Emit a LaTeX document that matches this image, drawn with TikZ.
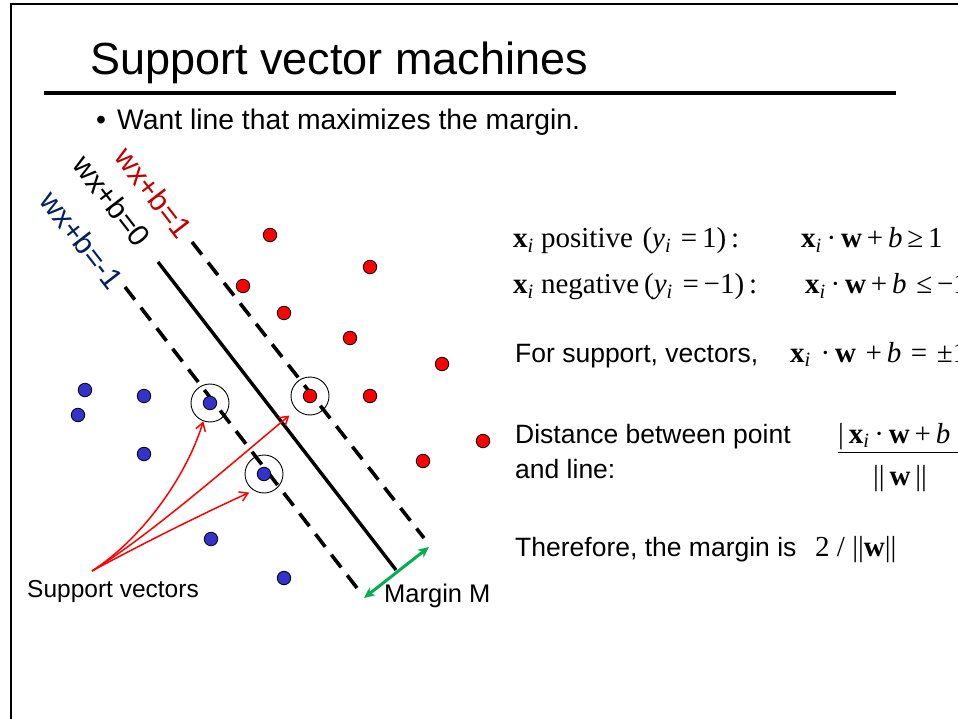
\documentclass[tikz,border=0pt]{standalone}
\usepackage{fontspec}
\setmainfont{Liberation Sans}
\newfontfamily\tms{Liberation Serif}
\usetikzlibrary{arrows.meta}
\definecolor{lblred}{RGB}{192,0,0}
\definecolor{lblblue}{RGB}{0,32,96}
\definecolor{dotblue}{RGB}{51,51,204}
\definecolor{mgreen}{RGB}{0,176,80}
\newcommand\bx{\textbf{x}}
\newcommand\bw{\textbf{w}}
\newcommand\sbi{\textsubscript{\itshape i}}
\begin{document}
\begin{tikzpicture}[x=1pt,y=-1pt,
  txt/.style={anchor=base west,inner sep=0pt,font=\fontsize{26.5}{30}\selectfont},
  mth/.style={anchor=base west,inner sep=0pt,font=\tms\fontsize{29}{32}\selectfont},
  lbl/.style={inner sep=0pt,rotate=-52.3,font=\fontsize{30}{32}\selectfont},
  rdot/.style={circle,fill=red,draw=black,line width=0.8pt,minimum size=13.5pt,inner sep=0pt},
  bdot/.style={circle,fill=dotblue,draw=black,line width=0.8pt,minimum size=13.5pt,inner sep=0pt},
  ring/.style={circle,draw=black,line width=0.9pt,minimum size=38pt,inner sep=0pt},
  dashline/.style={line width=3.6pt,dash pattern=on 16pt off 10pt},
  solidline/.style={line width=3.4pt},
  svarrow/.style={draw=red,line width=1.5pt,-{Straight Barb[length=8pt,width=10pt]}},
  marginarrow/.style={draw=mgreen,line width=3pt,{Stealth[length=11pt,width=10pt]}-{Stealth[length=11pt,width=10pt]}}]
\useasboundingbox (0,0) rectangle (958,719);
\fill[white] (0,0) rectangle (958,719);
% frame
\draw[line width=2pt] (11,719) -- (11,4) -- (958,4);
% title
\node[anchor=base west,inner sep=0pt,font=\fontsize{45}{50}\selectfont] (title) at (90,75) {Support vector machines};
\draw[line width=3.2pt] (44,93) -- (896,93);
\node[anchor=base west,inner sep=0pt,font=\fontsize{28.3}{32}\selectfont] (bul) at (96,130) {•};
\node[anchor=base west,inner sep=0pt,font=\fontsize{28.3}{32}\selectfont] (want) at (117,130) {Want line that maximizes the margin.};
% hyperplane lines
\coordinate (s1) at (158,262); \coordinate (s2) at (396,570);
\coordinate (p1) at (192,242); \coordinate (p2) at (424,538);
\coordinate (n1) at (125,287); \coordinate (n2) at (357,588);
\draw[solidline] (s1) -- (s2);
\draw[dashline] (p1) -- (p2);
\draw[dashline] (n1) -- (n2);
% labels
\node[lbl,text=lblred] (lp) at (154,193) {wx+b=1};
\node[lbl,text=black] (l0) at (112,201) {wx+b=0};
\node[lbl,text=lblblue] (ln) at (82,240) {wx+b=-1};
% red points
\node[rdot] (r1) at (270,235) {};
\node[rdot] (r2) at (370,267) {};
\node[rdot] (r3) at (243,286) {};
\node[rdot] (r4) at (284,313) {};
\node[rdot] (r5) at (350,338) {};
\node[rdot] (r6) at (442,364) {};
\node[rdot] (r7) at (370,396) {};
\node[rdot] (r8) at (310,396) {};
\node[rdot] (r9) at (483,441) {};
\node[rdot] (r10) at (423,461) {};
% blue points
\node[bdot] (b1) at (85,390) {};
\node[bdot] (b2) at (78,415) {};
\node[bdot] (b3) at (144,396) {};
\node[bdot] (b4) at (210,403) {};
\node[bdot] (b5) at (144,454) {};
\node[bdot] (b6) at (264,474) {};
\node[bdot] (b7) at (211,539) {};
\node[bdot] (b8) at (284,578) {};
% rings
\node[ring] (c1) at (210,403) {};
\node[ring] (c2) at (310,396) {};
\node[ring] (c3) at (264,474) {};
% support vectors arrows
\node[anchor=base west,inner sep=0pt,font=\fontsize{24.5}{28}\selectfont] (svt) at (27,597) {Support vectors};
\coordinate (sv) at (92,571);
\draw[svarrow] (sv) .. controls (140,540) and (185,480) .. (c1.250);
\draw[svarrow,shorten >=9pt] (sv) .. controls (150,535) and (230,465) .. (c2.225);
\draw[svarrow,shorten >=5pt] (sv) .. controls (140,545) and (200,515) .. (c3.238);
% margin
\coordinate (m1) at (364,598); \coordinate (m2) at (429,547);
\draw[marginarrow] (m1) -- (m2);
\node[anchor=base west,inner sep=0pt,font=\fontsize{25.5}{28}\selectfont] (mm) at (384,602) {Margin M};
% right text
\node[mth] (t1a) at (513,248) {\bx\sbi\ positive\,\,(\textit{y}\sbi\,\,=\,1)\,:};
\node[mth] (t1b) at (801,248) {\bx\sbi\,·\,\bw\,+\,\textit{b}\,≥\,1};
\node[mth] (t2a) at (513,294) {\bx\sbi\ negative\,(\textit{y}\sbi\,\,=\,−1)\,:};
\node[mth] (t2b) at (805,294) {\bx\sbi\,·\,\bw\,+\,\textit{b}\,\,≤\,−1};
\node[txt] (t3a) at (515,362) {For support, vectors,};
\node[mth] (t3b) at (790,362) {\bx\sbi\,\,·\,\bw\,\,+\,\textit{b}\,\,=\,\,±1};
\node[txt] (t4a) at (515,443) {Distance between point};
\node[txt] (t4b) at (515,478) {and line:};
\node[mth,anchor=base west] (fnum) at (838,443) {|\,\bx\sbi\,·\,\bw\,+\,\textit{b}\,\,\,|};
\draw[line width=1pt] (838,452) -- (962,452);
\node[mth,anchor=base] (fden) at (900,485) {||\,\bw\,||};
\node[txt] (t5a) at (515,556) {Therefore, the margin is};
\node[mth] (t5b) at (815,556) {2 / ||\bw||};
\end{tikzpicture}
\end{document}
